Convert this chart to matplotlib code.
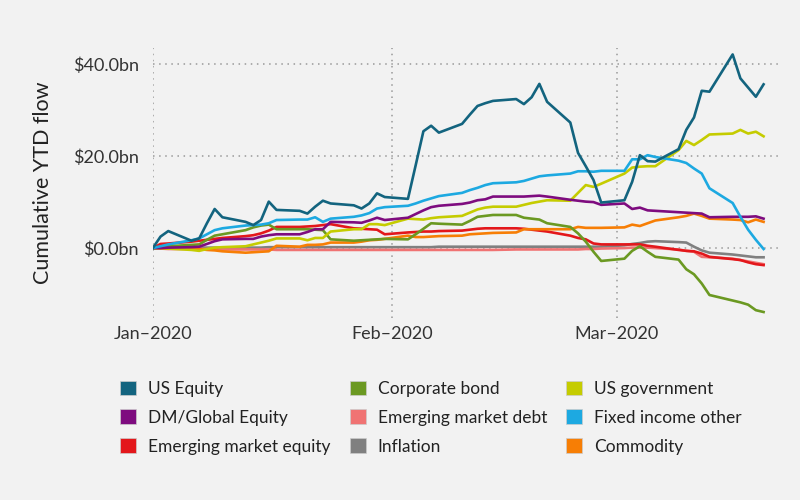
import pandas as pd
import numpy as np
import matplotlib.pyplot as plt
import matplotlib.dates as mdates
from matplotlib.patches import Patch

plt.rcParams['font.family'] = ['Lato', 'DejaVu Sans']

# trading days, Jan 1 start point then business days to Mar 20
dates = [pd.Timestamp('2020-01-01')] + list(pd.bdate_range('2020-01-02', '2020-03-20'))

us_equity = [0, 2.5, 3.7, 1.6, 2.1, 5.4, 8.5, 6.7, 5.7, 5.0, 6.1, 10.1, 8.3, 8.1, 7.5, 9.0, 10.3, 9.7,
             9.3, 8.6, 9.7, 11.9, 11.1, 10.7, 18.0, 25.4, 26.6, 25.1, 27.0, 29.0, 30.9, 31.5, 32.0, 32.4,
             31.3, 32.8, 35.7, 31.8, 27.3, 20.7, 17.8, 14.8, 9.9, 10.4, 14.4, 20.2, 18.9, 18.8, 21.5,
             25.7, 28.4, 34.2, 34.0, 42.1, 36.9, 34.9, 32.9, 35.6]
dm_global_equity = [0, 0, 0.1, 0.2, 0.3, 0.9, 1.5, 1.9, 2.0, 2.0, 2.5, 2.8, 3.0, 3.0, 3.5, 4.1, 4.1, 5.7,
                    5.6, 5.5, 6.0, 6.6, 6.1, 6.6, 7.4, 8.2, 8.9, 9.2, 9.6, 9.9, 10.4, 10.6, 11.2, 11.2,
                    11.2, 11.3, 11.4, 11.2, 10.5, 10.3, 10.1, 10.0, 9.4, 9.7, 8.5, 8.8, 8.2, 8.1, 7.8,
                    7.7, 7.6, 7.5, 6.7, 6.8, 6.8, 6.8, 6.9, 6.4]
em_equity = [0, 0.9, 1.0, 1.4, 1.6, 1.8, 2.0, 2.2, 2.6, 2.8, 3.2, 3.8, 4.6, 4.6, 4.7, 4.8, 5.0, 5.2,
             4.3, 4.2, 4.1, 4.0, 3.0, 3.4, 3.5, 3.6, 3.6, 3.7, 3.8, 4.0, 4.2, 4.3, 4.3, 4.3, 4.2, 4.0,
             3.8, 3.6, 2.7, 2.2, 1.9, 1.0, 0.8, 0.8, 0.8, 0.8, 0.5, 0.3, -0.4, -0.6, -0.7, -1.2, -1.9,
             -2.4, -2.6, -3.1, -3.5, -3.7]
corporate_bond = [0, 0.2, 0.4, 0.7, 0.8, 1.8, 2.7, 3.0, 3.9, 4.5, 4.9, 5.1, 4.1, 4.1, 4.1, 4.0, 3.9, 1.9,
                  1.6, 1.7, 1.8, 1.9, 2.0, 1.9, 3.0, 4.2, 5.4, 5.3, 5.1, 5.9, 6.8, 7.0, 7.2, 7.2, 6.6,
                  6.4, 6.2, 5.4, 4.6, 3.2, 1.4, -0.8, -2.8, -2.3, -0.6, 0.4, -0.8, -1.9, -2.5, -4.6,
                  -5.7, -7.7, -10.2, -11.4, -11.8, -12.3, -13.5, -13.9]
em_debt = [0, -0.1, -0.2, -0.2, -0.2, -0.2, -0.3, -0.3, -0.3, -0.3, -0.3, -0.3, -0.4, -0.4, -0.4, -0.4,
           -0.4, -0.4, -0.4, -0.4, -0.4, -0.4, -0.4, -0.4, -0.4, -0.4, -0.4, -0.4, -0.4, -0.4, -0.4,
           -0.4, -0.4, -0.3, -0.3, -0.3, -0.3, -0.3, -0.3, -0.3, -0.2, -0.2, -0.1, 0.0, 0.1, 0.1, 0.1,
           0.0, -0.3, -0.6, -0.8, -1.9, -2.0, -2.3, -2.6, -2.9, -3.2, -3.5]
inflation = [0, 0.0, 0.0, 0.0, 0.1, 0.1, 0.1, 0.1, 0.1, 0.1, 0.1, 0.2, 0.2, 0.2, 0.2, 0.2, 0.2, 0.2,
             0.2, 0.2, 0.2, 0.2, 0.2, 0.2, 0.2, 0.2, 0.2, 0.3, 0.3, 0.3, 0.3, 0.3, 0.3, 0.3, 0.3, 0.3,
             0.3, 0.3, 0.3, 0.3, 0.3, 0.3, 0.3, 0.6, 0.9, 1.1, 1.4, 1.5, 1.3, 1.2, 0.3, -0.5, -1.0,
             -1.4, -1.6, -1.8, -2.0, -2.0]
us_government = [0, 0, -0.1, -0.4, -0.6, -0.2, 0.1, 0.2, 0.4, 0.8, 1.2, 1.6, 2.1, 2.1, 1.7, 2.2, 2.2,
                 3.6, 4.1, 4.1, 5.2, 5.2, 5.0, 6.4, 6.3, 6.2, 6.5, 6.7, 7.0, 7.7, 8.4, 8.8, 9.0, 9.0,
                 9.4, 9.8, 10.1, 10.4, 10.3, 12.0, 13.7, 13.3, 14.0, 16.2, 17.5, 17.7, 17.8, 17.8,
                 21.3, 23.3, 22.4, 23.5, 24.7, 24.9, 25.7, 24.9, 25.3, 24.3]
fixed_income_other = [0, 0.4, 0.8, 1.7, 2.1, 3.0, 3.9, 4.3, 4.9, 5.0, 5.1, 5.4, 6.1, 6.2, 6.2, 6.7,
                      5.7, 6.4, 6.8, 7.1, 7.6, 8.6, 8.9, 9.2, 9.7, 10.3, 10.8, 11.3, 12.0, 12.6, 13.1,
                      13.7, 14.1, 14.3, 14.6, 15.1, 15.6, 15.8, 16.2, 16.7, 16.7, 16.6, 16.8, 16.8,
                      19.3, 19.3, 20.2, 19.8, 19.0, 18.5, 17.3, 16.2, 13.0, 9.8, 6.8, 4.0, 1.8, -0.2]
commodity = [0, 0, -0.1, -0.1, -0.2, -0.4, -0.5, -0.7, -1.0, -0.9, -0.8, -0.7, 0.5, 0.3, 0.7, 0.7, 0.8,
             1.2, 1.2, 1.4, 1.7, 1.8, 2.0, 2.7, 2.4, 2.4, 2.5, 2.6, 2.7, 3.0, 3.1, 3.2, 3.3, 3.4, 4.1,
             4.1, 4.1, 4.1, 4.1, 4.6, 4.4, 4.4, 4.4, 4.5, 5.1, 4.8, 5.4, 6.0, 6.7, 7.0, 7.5, 7.0, 6.4,
             6.2, 6.1, 5.6, 6.2, 5.7]

labels = ['US Equity', 'DM/Global Equity', 'Emerging market equity', 'Corporate bond',
          'Emerging market debt', 'Inflation', 'US government', 'Fixed income other', 'Commodity']
series = [us_equity, dm_global_equity, em_equity, corporate_bond, em_debt, inflation,
          us_government, fixed_income_other, commodity]
colors = ['#13647F', '#7E0C7F', '#E3171B', '#6B9922', '#F07373', '#808080',
          '#C5CC00', '#1DA9E1', '#F77E05']

bg = '#F2F2F2'
fig = plt.figure(figsize=(8, 5), dpi=100, facecolor=bg)
ax = fig.add_axes([0.191, 0.364, 0.782, 0.54], facecolor=bg)

# draw order: lower lines first so the main ones sit on top
draw_order = [5, 4, 2, 8, 3, 6, 1, 7, 0]
for i in draw_order:
    ax.plot(dates, series[i], color=colors[i], lw=1.9, solid_joinstyle='round', zorder=3)

ax.set_xlim(pd.Timestamp('2020-01-01'), pd.Timestamp('2020-03-21 22:00'))
ax.set_ylim(-15.2, 43.5)
ax.set_xticks([pd.Timestamp('2020-01-01'), pd.Timestamp('2020-02-01'), pd.Timestamp('2020-03-01')])
ax.xaxis.set_major_formatter(mdates.DateFormatter('%b–%Y'))
ax.set_yticks([0, 20, 40])
ax.set_yticklabels(['$0.0bn', '$20.0bn', '$40.0bn'])
ax.tick_params(length=0, labelsize=13, colors='#333333', pad=10)
ax.tick_params(axis='x', pad=6)
for s in ax.spines.values():
    s.set_visible(False)
ax.grid(True, linestyle=(0, (1, 3)), color='#999999', lw=1.1)
ax.set_ylabel('Cumulative YTD flow', fontsize=15.5, color='#222222', labelpad=14)

handles = [Patch(facecolor=colors[i], edgecolor='#CCCCCC', lw=0.5) for i in range(9)]
fig.legend(handles, labels, ncol=3, loc='upper left', bbox_to_anchor=(0.131, 0.270),
           frameon=False, fontsize=12.5, handlelength=0.92, handleheight=0.92,
           handletextpad=0.68, columnspacing=1.1, labelspacing=0.72, labelcolor='#222222')

fig.savefig('out.png', dpi=100, facecolor=bg)
